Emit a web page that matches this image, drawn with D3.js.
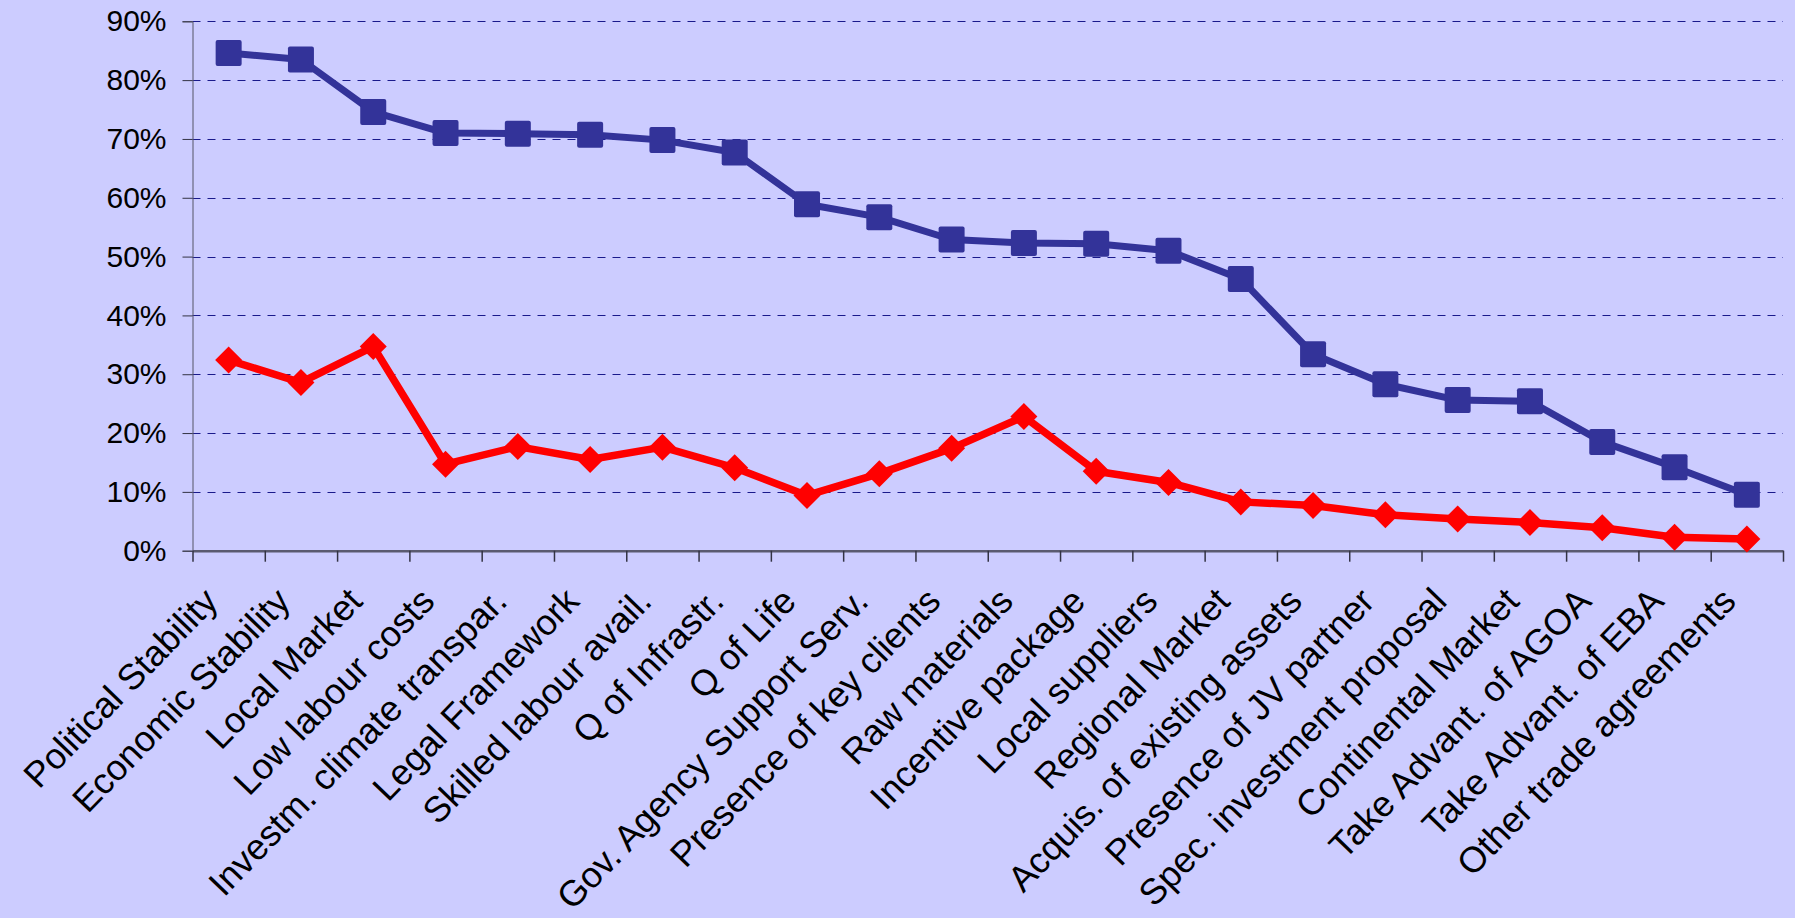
<!DOCTYPE html>
<html>
<head>
    <meta charset="utf-8">
    <script src="https://cdn.jsdelivr.net/npm/d3@7/dist/d3.min.js"></script>
    <title>Location factors</title>
    <style>
        html, body { margin: 0; padding: 0; background: #ccccff; }
        svg { display: block; }
    </style>
</head>
<body>
<script>
    // Data
    var categories = [
        "Political Stability", "Economic Stability", "Local Market", "Low labour costs",
        "Investm. climate transpar.", "Legal Framework", "Skilled labour avail.", "Q of Infrastr.",
        "Q of Life", "Gov. Agency Support Serv.", "Presence of key clients", "Raw materials",
        "Incentive package", "Local suppliers", "Regional Market", "Acquis. of existing assets",
        "Presence of JV partner", "Spec. investment proposal", "Continental Market",
        "Take Advant. of AGOA", "Take Advant. of EBA", "Other trade agreements"
    ];
    var blueValues = [0.846, 0.835, 0.746, 0.710, 0.709, 0.707, 0.698, 0.677, 0.589, 0.567,
                      0.529, 0.523, 0.522, 0.510, 0.462, 0.334, 0.283, 0.256, 0.254, 0.185,
                      0.142, 0.095];
    var redValues = [0.324, 0.286, 0.347, 0.147, 0.177, 0.155, 0.176, 0.141, 0.094, 0.131,
                     0.174, 0.228, 0.135, 0.116, 0.083, 0.077, 0.061, 0.054, 0.048, 0.039,
                     0.023, 0.020];
    var yTicks = [0, 0.1, 0.2, 0.3, 0.4, 0.5, 0.6, 0.7, 0.8, 0.9];

    var width = 1795;
    var height = 918;
    var plotLeft = 192.5, plotRight = 1783, plotTop = 21.3, plotBottom = 550.7;
    var font = "'Liberation Sans', Arial, sans-serif";

    var svg = d3.select("body").append("svg")
        .attr("width", width)
        .attr("height", height);

    svg.append("rect")
        .attr("width", width)
        .attr("height", height)
        .attr("fill", "#ccccff");

    // scales
    var x = d3.scaleBand()
        .domain(categories)
        .range([plotLeft, plotRight])
        .padding(0);

    var xIdx = d3.scaleLinear()
        .domain([0, categories.length])
        .range([plotLeft, plotRight]);

    var y = d3.scaleLinear()
        .domain([0, 0.9])
        .range([plotBottom, plotTop]);

    function cx(d, i) { return x(categories[i]) + x.bandwidth() / 2; }

    // gridlines
    svg.append("g")
        .selectAll("line")
        .data(yTicks.filter(function(d){ return d > 0; }))
        .enter()
        .append("line")
        .attr("x1", plotLeft)
        .attr("x2", plotRight)
        .attr("y1", function(d){ return Math.round(y(d)) + 0.5; })
        .attr("y2", function(d){ return Math.round(y(d)) + 0.5; })
        .attr("stroke", "#1a1a8c")
        .attr("stroke-width", 1)
        .attr("stroke-dasharray", "8,7");

    // y axis
    var yAxis = d3.axisLeft(y)
        .tickValues(yTicks)
        .tickFormat(d3.format(".0%"))
        .tickSize(10)
        .tickPadding(16);

    var gy = svg.append("g")
        .attr("transform", "translate(" + plotLeft + ",0)")
        .call(yAxis);
    gy.select(".domain").attr("stroke", "#555566");
    gy.selectAll(".tick line").attr("stroke", "#333344");
    gy.selectAll(".tick text")
        .attr("fill", "#000")
        .style("font-family", font)
        .style("font-size", "30px");

    // x axis (ticks between categories)
    var xAxis = d3.axisBottom(xIdx)
        .tickValues(d3.range(categories.length + 1))
        .tickFormat("")
        .tickSize(11)
        .tickSizeOuter(0);

    var gx = svg.append("g")
        .attr("transform", "translate(0," + plotBottom + ")")
        .call(xAxis);
    gx.select(".domain").attr("stroke", "#5a5a70").attr("stroke-width", 2.5);
    gx.selectAll(".tick line").attr("stroke", "#333344").attr("stroke-width", 1.5);

    // category labels
    svg.append("g")
        .selectAll("text")
        .data(categories)
        .enter()
        .append("text")
        .attr("transform", function(d, i){
            return "translate(" + (cx(d, i) - 9) + "," + 603 + ") rotate(-46)";
        })
        .attr("text-anchor", "end")
        .style("font-family", font)
        .style("font-size", "36px")
        .attr("fill", "#000")
        .text(function(d){ return d; });

    // lines
    var line = d3.line()
        .x(function(d, i){ return cx(d, i); })
        .y(function(d){ return y(d); });

    svg.append("path")
        .datum(blueValues)
        .attr("d", line)
        .attr("fill", "none")
        .attr("stroke", "#333399")
        .attr("stroke-width", 7)
        .attr("stroke-linejoin", "round");

    svg.append("path")
        .datum(redValues)
        .attr("d", line)
        .attr("fill", "none")
        .attr("stroke", "#ff0000")
        .attr("stroke-width", 7.5)
        .attr("stroke-linejoin", "round");

    // markers
    var sq = 26;
    svg.append("g")
        .selectAll("rect")
        .data(blueValues)
        .enter()
        .append("rect")
        .attr("x", function(d, i){ return cx(d, i) - sq / 2; })
        .attr("y", function(d){ return y(d) - sq / 2; })
        .attr("width", sq)
        .attr("height", sq)
        .attr("rx", 2)
        .attr("fill", "#333399");

    var dia = 13.5;
    svg.append("g")
        .selectAll("path")
        .data(redValues)
        .enter()
        .append("path")
        .attr("d", function(d, i){
            var px = cx(d, i), py = y(d);
            return "M" + px + "," + (py - dia) + "L" + (px + dia) + "," + py +
                   "L" + px + "," + (py + dia) + "L" + (px - dia) + "," + py + "Z";
        })
        .attr("fill", "#ff0000");
</script>
</body>
</html>
